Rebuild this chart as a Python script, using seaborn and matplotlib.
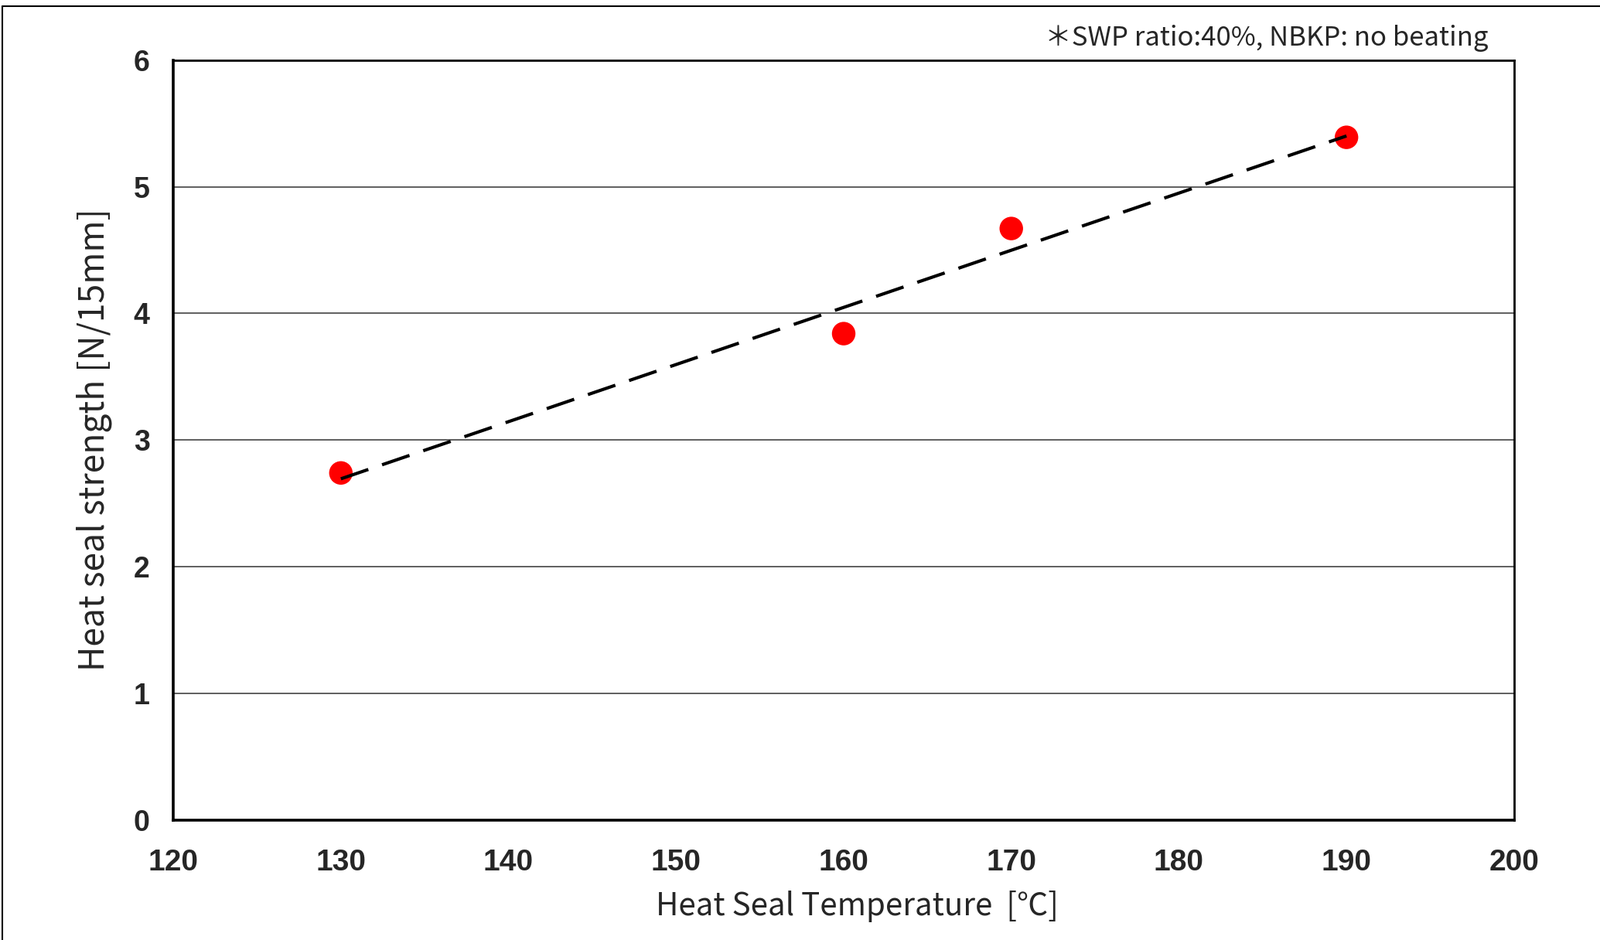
import numpy as np
import pandas as pd
import matplotlib
matplotlib.use("Agg")
import matplotlib.pyplot as plt
import seaborn as sns
from matplotlib.lines import Line2D

# Data
temps = [130, 160, 170, 190]
strength = [2.74, 3.84, 4.67, 5.39]
x_ticks = [120, 130, 140, 150, 160, 170, 180, 190, 200]
y_ticks = [0, 1, 2, 3, 4, 5, 6]
note = "\uff0aSWP ratio:40%, NBKP: no beating"
x_label = "Heat Seal Temperature  [\u2103]"
y_label = "Heat seal strength [N/15mm]"

df = pd.DataFrame({"temp": temps, "strength": strength})

sns.set_style("white")
plt.rcParams["font.family"] = ["Liberation Sans", "Noto Sans CJK JP", "DejaVu Sans"]
label_font = ["Noto Sans CJK JP", "DejaVu Sans"]

fig = plt.figure(figsize=(20.69, 12.16), dpi=100)
ax = fig.add_axes([0.1083, 0.1277, 0.8380, 0.8084])

# scatter + least squares trend line
sns.regplot(data=df, x="temp", y="strength", ax=ax, ci=None, truncate=True,
            scatter_kws=dict(s=480, color="#ff0000", alpha=1, edgecolor="none", zorder=3),
            line_kws=dict(color="black", lw=3, dashes=(9, 4.5), zorder=4))

ax.set_xlim(120, 200)
ax.set_ylim(0, 6)
ax.set_xticks(x_ticks)
ax.set_yticks(y_ticks)
ax.set_xticklabels([str(t) for t in x_ticks], fontsize=28, fontweight="bold")
ax.set_yticklabels([str(t) for t in y_ticks], fontsize=27, fontweight="bold")
ax.tick_params(axis="x", direction="in", length=8.5, width=1.2, color="#555555", pad=27)
ax.tick_params(axis="y", length=0, pad=22)

ax.yaxis.grid(True, color="#333333", lw=1.1)
ax.set_axisbelow(True)

for side in ["left", "bottom"]:
    ax.spines[side].set_linewidth(2.6)
    ax.spines[side].set_color("black")
for side in ["top", "right"]:
    ax.spines[side].set_linewidth(2.0)
    ax.spines[side].set_color("black")

ax.set_xlabel(x_label, fontsize=29, family=label_font)
ax.set_ylabel(y_label, fontsize=32, family=label_font, labelpad=20)
ax.xaxis.set_label_coords(0.51, -0.093)

fig.text(0.930, 0.959, note, fontsize=25, family=label_font, ha="right", va="center")

# outer frame (top and left edges only visible)
fig.add_artist(Line2D([0.0015, 1.0], [0.9935, 0.9935], transform=fig.transFigure,
                      color="black", lw=1.5))
fig.add_artist(Line2D([0.0015, 0.0015], [0.0, 0.9935], transform=fig.transFigure,
                      color="black", lw=1.5))

fig.savefig("out.png", dpi=100)
